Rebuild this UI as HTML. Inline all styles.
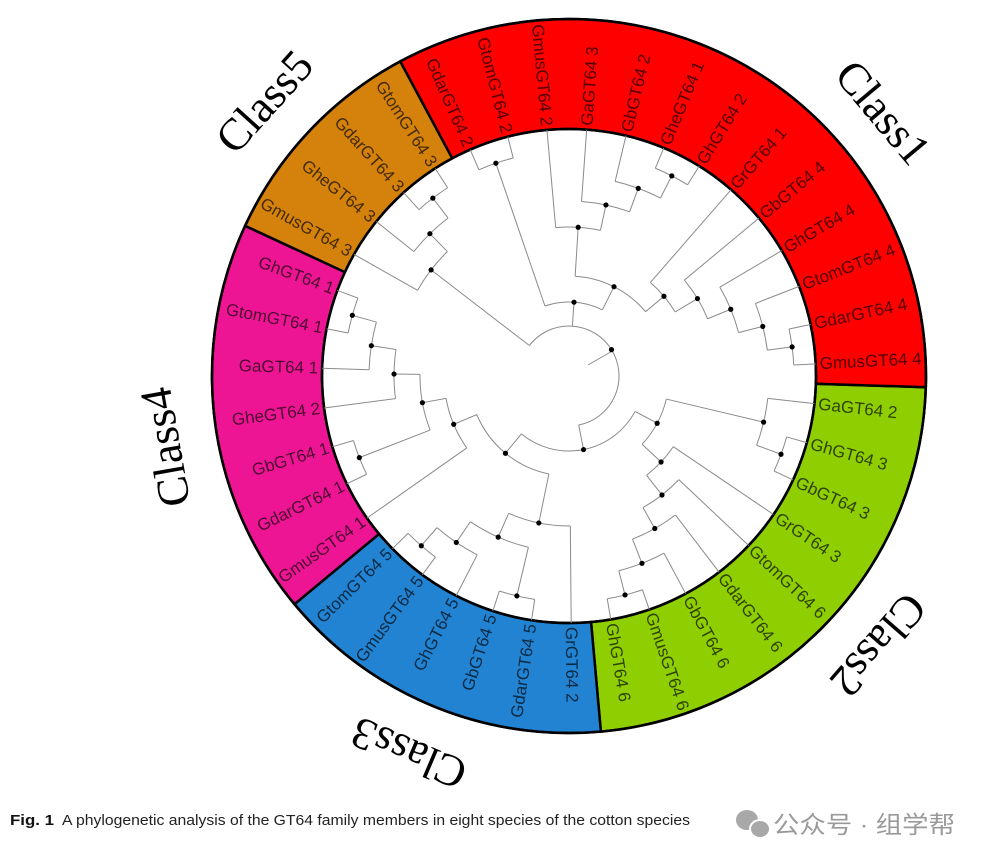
<!DOCTYPE html>
<html><head><meta charset="utf-8"><style>
html,body{margin:0;padding:0;background:#fff;}
svg{display:block;}
</style></head><body>
<svg id="s" width="987" height="864" viewBox="0 0 987 864" xmlns="http://www.w3.org/2000/svg">
<rect width="987" height="864" fill="#fff"/>
<g id="ring"></g>
<g id="tree" fill="none" stroke="#8a8a8a" stroke-width="1"></g>
<g id="dots" fill="#000"></g>
<g id="labels" font-family="Liberation Sans, Arial, sans-serif" font-size="17" fill="#000" fill-opacity="0.68"></g>
<g id="classes" font-family="Liberation Serif, Times New Roman, serif" font-size="45" fill="#000"></g>
<text x="10" y="825" font-family="Liberation Sans, Arial, sans-serif" font-size="14.5" font-weight="bold" fill="#111" textLength="44" lengthAdjust="spacingAndGlyphs">Fig. 1</text>
<text x="62" y="825" font-family="Liberation Sans, Arial, sans-serif" font-size="14.5" fill="#222" textLength="628" lengthAdjust="spacingAndGlyphs">A phylogenetic analysis of the GT64 family members in eight species of the cotton species</text>
<g fill="#a8a8a8"><ellipse cx="747" cy="820" rx="11" ry="10"/><ellipse cx="760" cy="829" rx="10" ry="9" stroke="#fff" stroke-width="2"/></g>
<text x="773" y="833" font-family="Liberation Sans, 'Noto Sans CJK SC', sans-serif" font-size="24" fill="#9a9a9a" textLength="182" lengthAdjust="spacingAndGlyphs">公众号 · 组学帮</text>
</svg>
<script>
var CX=569,CY=376,RI=247,RO=357,NS="http://www.w3.org/2000/svg";
function el(p,t,a,txt){var e=document.createElementNS(NS,t);for(var k in a)e.setAttribute(k,a[k]);if(txt!=null)e.textContent=txt;document.getElementById(p).appendChild(e);return e;}
function pt(r,a){var t=a*Math.PI/180;return [CX+r*Math.cos(t),CY+r*Math.sin(t)];}
var names=["GaGT64 2","GhGT64 3","GbGT64 3","GrGT64 3","GtomGT64 6","GdarGT64 6","GbGT64 6","GmusGT64 6","GhGT64 6",
"GrGT64 2","GdarGT64 5","GbGT64 5","GhGT64 5","GmusGT64 5","GtomGT64 5",
"GmusGT64 1","GdarGT64 1","GbGT64 1","GheGT64 2","GaGT64 1","GtomGT64 1","GhGT64 1",
"GmusGT64 3","GheGT64 3","GdarGT64 3","GtomGT64 3",
"GdarGT64 2","GtomGT64 2","GmusGT64 2","GaGT64 3","GbGT64 2","GheGT64 1","GhGT64 2","GrGT64 1","GbGT64 4","GhGT64 4","GtomGT64 4","GdarGT64 4","GmusGT64 4"];
var STEP=360/39,OFF=1.8;
function la(i){var a=OFF+STEP*(i+0.5);if(i<22)a+=360;return a;}
var secs=[[0,9,"#8fce00"],[9,6,"#2283d2"],[15,7,"#ee1595"],[22,4,"#d4820c"],[26,13,"#ff0000"]];
secs.forEach(function(s){var a0=OFF+STEP*s[0],a1=OFF+STEP*(s[0]+s[1]);
var p1=pt(RO,a0),p2=pt(RO,a1),p3=pt(RI,a1),p4=pt(RI,a0),lg=(a1-a0)>180?1:0;
el("ring","path",{d:"M"+p1+" A"+RO+","+RO+" 0 "+lg+" 1 "+p2+" L"+p3+" A"+RI+","+RI+" 0 "+lg+" 0 "+p4+" Z",fill:s[2],stroke:"#000","stroke-width":2.5,"stroke-linejoin":"miter"});});
el("ring","circle",{cx:CX,cy:CY,r:RO,fill:"none",stroke:"#000","stroke-width":2.5});
el("ring","circle",{cx:CX,cy:CY,r:RI,fill:"none",stroke:"#000","stroke-width":2.5});
function N(r,c){return {r:r,c:c};}
var c2=N(100,[N(200,[0,N(226,[1,2])]),N(126,[3,N(151,[4,N(175,[5,N(201,[6,N(226,[7,8])])])])])]);
var c3=N(150,[9,N(176,[N(226,[10,11]),N(201,[12,N(225,[13,14])])])]);
var c4=N(125,[15,N(149,[N(225,[16,17]),N(175,[18,N(200,[19,N(225,[20,21])])])])]);
var c5=N(174,[22,N(199,[23,N(224,[24,25])])]);
var c1=N(74,[N(225,[26,27]),N(100,[N(149,[28,N(175,[29,N(200,[30,N(225,[31,32])])])]),N(124,[33,N(150,[34,N(175,[35,N(200,[36,N(225,[37,38])])])])])])]);
var root=N(50,[c5,c1,N(75,[c2,N(100,[c3,c4])])]);
function ang(n){if(typeof n==="number")return la(n);var a=n.c.map(ang);n.a0=Math.min.apply(null,a);n.a1=Math.max.apply(null,a);n.ang=(n.a0+n.a1)/2;return n.ang;}
ang(root);
function rad(n){return typeof n==="number"?RI:n.r;}
function draw(n){if(typeof n==="number")return;
 var p1=pt(n.r,n.a0),p2=pt(n.r,n.a1),lg=(n.a1-n.a0)>180?1:0;
 el("tree","path",{d:"M"+p1+" A"+n.r+","+n.r+" 0 "+lg+" 1 "+p2});
 n.c.forEach(function(ch){var a=typeof ch==="number"?la(ch):ch.ang;var q1=pt(n.r,a),q2=pt(rad(ch),a);
  el("tree","line",{x1:q1[0],y1:q1[1],x2:q2[0],y2:q2[1]});draw(ch);});
 var d=pt(n.r,n.ang);el("dots","circle",{cx:d[0],cy:d[1],r:2.6});}
draw(root);
var rs=pt(50,330),re=pt(22,330);el("tree","line",{x1:rs[0],y1:rs[1],x2:re[0],y2:re[1]});
names.forEach(function(nm,i){var a=la(i)%360,p=pt(251,a);
 if(a>90&&a<270){el("labels","text",{x:p[0],y:p[1],"text-anchor":"end","dominant-baseline":"central",transform:"rotate("+(a+180)+" "+p[0]+" "+p[1]+")"},nm);}
 else{el("labels","text",{x:p[0],y:p[1],"text-anchor":"start","dominant-baseline":"central",transform:"rotate("+a+" "+p[0]+" "+p[1]+")"},nm);}});
[["Class1",-40],["Class2",41],["Class3",113],["Class4",170],["Class5",222]].forEach(function(c){var p=pt(410,c[1]);
 el("classes","text",{x:p[0],y:p[1],"text-anchor":"middle","dominant-baseline":"central",transform:"rotate("+(c[1]+90)+" "+p[0]+" "+p[1]+")"},c[0]);});
</script>
</body></html>
